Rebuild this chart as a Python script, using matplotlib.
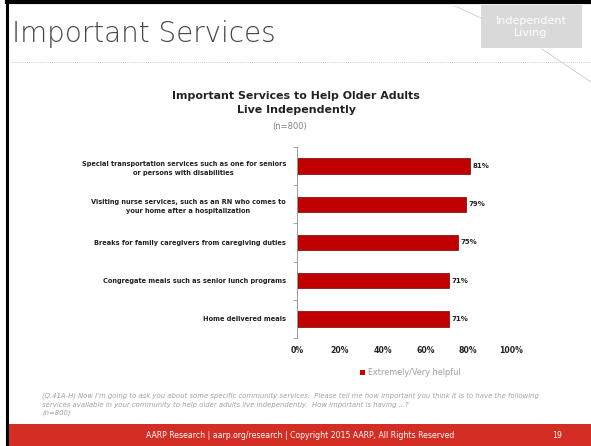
import matplotlib
matplotlib.use("Agg")
import matplotlib.pyplot as plt
from matplotlib.patches import Rectangle
from matplotlib.lines import Line2D

categories = [
    "Special transportation services such as one for seniors\nor persons with disabilities",
    "Visiting nurse services, such as an RN who comes to\nyour home after a hospitalization",
    "Breaks for family caregivers from caregiving duties",
    "Congregate meals such as senior lunch programs",
    "Home delivered meals",
]
values = [81, 79, 75, 71, 71]
value_labels = ["81%", "79%", "75%", "71%", "71%"]
xticks = [0, 20, 40, 60, 80, 100]
xtick_labels = ["0%", "20%", "40%", "60%", "80%", "100%"]
series_name = "Extremely/Very helpful"

W, H = 591, 446
fig = plt.figure(figsize=(W / 100, H / 100), dpi=100)
fig.patch.set_facecolor("white")

def fx(x):
    return x / W

def fy(y):
    return 1 - y / H

# slide frame
fig.add_artist(Line2D([fx(7), fx(7)], [fy(0), fy(446)], color="black", lw=2.2))
fig.add_artist(Line2D([fx(7), fx(591)], [fy(1.5), fy(1.5)], color="black", lw=3))
# footer bar
fig.add_artist(Rectangle((fx(8), 0), 1 - fx(8), 22 / H, color="#D42E24", lw=0))
fig.text(fx(300), fy(435.5), "AARP Research | aarp.org/research | Copyright 2015 AARP, All Rights Reserved",
         color="white", fontsize=5.6, ha="center", va="center", family="DejaVu Sans")
fig.text(fx(557), fy(435.5), "19", color="white", fontsize=5.6, ha="center", va="center")

# header
fig.text(fx(12), fy(34), "Important Services", fontsize=20, color="#444444",
         ha="left", va="center", family="DejaVu Sans", fontweight="light")
fig.add_artist(Line2D([fx(10), fx(591)], [fy(62), fy(62)], color="#BBBBBB", lw=0.6, ls=(0, (1, 1.5))))
fig.add_artist(Rectangle((fx(481), fy(48)), 101 / W, 43 / H, color="#D9D9D9", lw=0))
fig.text(fx(531), fy(26.5), "Independent\nLiving", fontsize=8, color="white", ha="center",
         va="center", linespacing=1.25)
fig.add_artist(Line2D([fx(455), fx(481)], [fy(6), fy(18)], color="#C8C0C0", lw=0.5))
fig.add_artist(Line2D([fx(542), fx(591)], [fy(49), fy(82)], color="#C8C0C0", lw=0.5))

# chart titles
fig.text(fx(296), fy(103), "Important Services to Help Older Adults\nLive Independently",
         fontsize=7.9, fontweight="bold", color="#222222", ha="center", va="center", linespacing=1.45)
fig.text(fx(290), fy(127), "(n=800)", fontsize=6, color="#808080", ha="center", va="center")

ax = fig.add_axes([fx(297), fy(338), (511 - 297) / W, (338 - 147) / H])
ypos = list(range(len(categories)))
bars = ax.barh(ypos, values, height=0.4, color="#C00000", edgecolor="#7A0000", linewidth=0.5)
ax.set_ylim(len(categories) - 0.5, -0.5)
ax.set_xlim(0, 100)
ax.set_xticks(xticks)
ax.set_xticklabels(xtick_labels, fontsize=5.6, fontweight="bold", color="#222222")
ax.tick_params(axis="x", length=0, pad=6)
ax.set_yticks(ypos)
ax.set_yticklabels(categories, fontsize=4.75, fontweight="bold", color="#222222", linespacing=1.6)
ax.tick_params(axis="y", which="major", length=0, pad=8)
ax.set_yticks([i - 0.5 for i in range(len(categories) + 1)], minor=True)
ax.tick_params(axis="y", which="minor", length=3, color="#999999", width=0.6)
for lbl in ax.get_yticklabels():
    lbl.set_horizontalalignment("right")
    lbl.set_multialignment("center")
for s in ["top", "right", "bottom"]:
    ax.spines[s].set_visible(False)
ax.spines["left"].set_color("#999999")
ax.spines["left"].set_linewidth(0.7)
for y, v, t in zip(ypos, values, value_labels):
    ax.text(v + 1.3, y, t, fontsize=5, fontweight="bold", color="#222222", va="center", ha="left")

# legend
fig.add_artist(Rectangle((fx(360), fy(375)), 5 / W, 5 / H, color="#C00000", lw=0))
fig.text(fx(368), fy(372.5), series_name, fontsize=5.9, color="#A0A0A0", ha="left", va="center")

# footnote
fig.text(fx(42), fy(404.5), "(Q.41A-H) Now I'm going to ask you about some specific community services.  Please tell me how important you think it is to have the following\n"
         "services available in your community to help older adults live independently.  How important is having ...?\n(n=800)",
         fontsize=4.95, color="#A0A0A0", style="italic", ha="left", va="center", linespacing=1.45)

fig.savefig("out.png", dpi=100, facecolor="white")
